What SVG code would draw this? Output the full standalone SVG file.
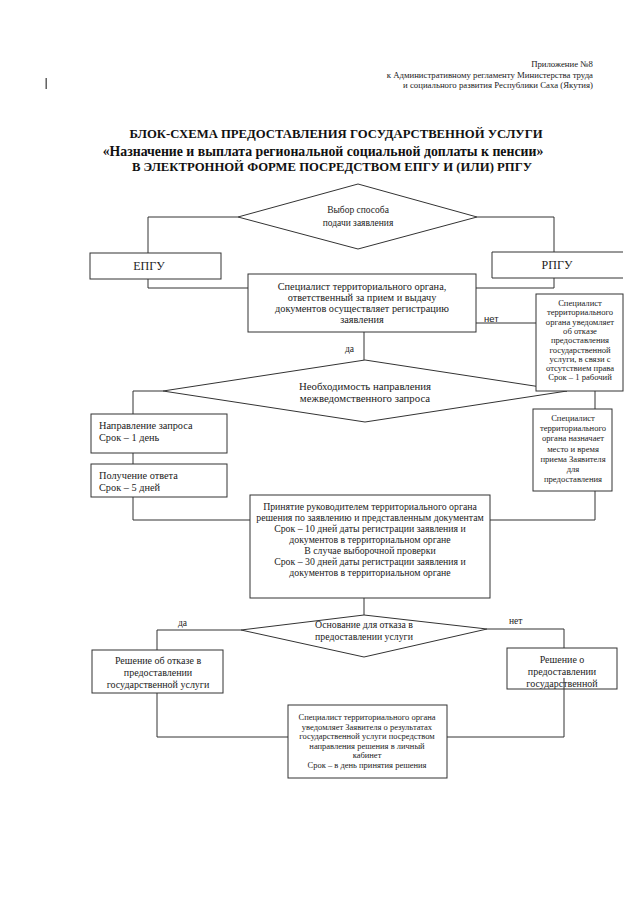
<svg xmlns="http://www.w3.org/2000/svg" width="640" height="905" viewBox="0 0 640 905">
<style>
text{font-family:"Liberation Serif","Times New Roman",serif;fill:#222}
.box{fill:#fff;stroke:#333;stroke-width:1}
.c{text-anchor:middle}
.hdr{font-size:8.75px;text-anchor:end}
.ttl{font-size:12.7px;font-weight:bold;text-anchor:middle;fill:#111}
.t10{font-size:10.3px}
.t98{font-size:9.8px}
.t9{font-size:9.5px}
.t86{font-size:8.6px}
.t85{font-size:8.5px}
.con{fill:none;stroke:#333;stroke-width:1}
</style>
<rect width="640" height="905" fill="#fff"/>
<g id="header">
<text class="hdr" x="593" y="67">Приложение №8</text>
<text class="hdr" x="593" y="78">к Административному регламенту Министерства труда</text>
<text class="hdr" x="593" y="88">и социального развития Республики Саха (Якутия)</text>
<rect x="45.5" y="78" width="1.4" height="11" fill="#555"/>
</g>
<g id="title">
<text class="ttl" x="336" y="138">БЛОК-СХЕМА ПРЕДОСТАВЛЕНИЯ ГОСУДАРСТВЕННОЙ УСЛУГИ</text>
<text class="ttl" x="323" y="156" style="font-size:13.8px">«Назначение и выплата региональной социальной доплаты к пенсии»</text>
<text class="ttl" x="332" y="171">В ЭЛЕКТРОННОЙ ФОРМЕ ПОСРЕДСТВОМ ЕПГУ И (ИЛИ) РПГУ</text>
</g>
<g id="d1">
<polygon class="box" points="358,184 477,217 358,249 238,217"/>
<text class="t9 c" x="358" y="213">Выбор способа</text>
<text class="t9 c" x="358" y="226">подачи заявления</text>
</g>
<g id="epgu">
<rect class="box" x="90" y="253" width="131" height="26"/>
<text class="c" x="149" y="270" font-size="12">ЕПГУ</text>
</g>
<g id="rpgu">
<rect x="492" y="252" width="131" height="26" fill="#fff"/>
<path class="con" d="M623,252 H492 V278 H623"/>
<text class="c" x="557" y="269" font-size="12">РПГУ</text>
</g>
<g id="spec1">
<rect class="box" x="248" y="274" width="228" height="58"/>
<text class="t10 c" x="362" y="290">Специалист территориального органа,</text>
<text class="t10 c" x="362" y="301">ответственный за прием и выдачу</text>
<text class="t10 c" x="362" y="312">документов осуществляет регистрацию</text>
<text class="t10 c" x="362" y="323">заявления</text>
</g>
<g id="d2">
<polygon class="box" points="365,360 567,391 365,422 163,391"/>
<text class="c" x="365" y="390" font-size="10.8">Необходимость направления</text>
<text class="c" x="365" y="402" font-size="10.8">межведомственного запроса</text>
</g>
<g id="refuse1">
<rect class="box" x="536" y="294" width="87" height="97"/>
<text class="t86 c" x="580" y="306">Специалист</text>
<text class="t86 c" x="580" y="315.3">территориального</text>
<text class="t86 c" x="580" y="324.6">органа уведомляет</text>
<text class="t86 c" x="580" y="333.9">об отказе</text>
<text class="t86 c" x="580" y="343.2">предоставления</text>
<text class="t86 c" x="580" y="352.5">государственной</text>
<text class="t86 c" x="580" y="361.8">услуги, в связи с</text>
<text class="t86 c" x="580" y="371.1">отсутствием права</text>
<text class="t86 c" x="580" y="380.4">Срок – 1 рабочий</text>
</g>
<g id="napr">
<rect class="box" x="91" y="414" width="136" height="39"/>
<text class="t10" x="99" y="429">Направление запроса</text>
<text class="t10" x="99" y="441">Срок – 1 день</text>
</g>
<g id="poluch">
<rect class="box" x="91" y="464" width="136" height="33"/>
<text class="t10" x="99" y="479">Получение ответа</text>
<text class="t10" x="99" y="491">Срок – 5 дней</text>
</g>
<g id="appoint">
<rect class="box" x="533" y="409" width="79" height="82"/>
<text class="t86 c" x="573" y="421">Специалист</text>
<text class="t86 c" x="573" y="431">территориального</text>
<text class="t86 c" x="573" y="441">органа назначает</text>
<text class="t86 c" x="573" y="451.5">место и время</text>
<text class="t86 c" x="573" y="462">приема Заявителя</text>
<text class="t86 c" x="573" y="472">для</text>
<text class="t86 c" x="573" y="482">предоставления</text>
</g>
<g id="decision">
<rect class="box" x="250" y="495" width="240" height="103"/>
<text class="t98 c" x="370" y="510">Принятие руководителем территориального органа</text>
<text class="t98 c" x="370" y="521">решения по заявлению и представленным документам</text>
<text class="t98 c" x="370" y="532">Срок – 10 дней даты регистрации заявления и</text>
<text class="t98 c" x="370" y="543">документов в территориальном органе</text>
<text class="t98 c" x="370" y="554">В случае выборочной проверки</text>
<text class="t98 c" x="370" y="565">Срок – 30 дней даты регистрации заявления и</text>
<text class="t98 c" x="370" y="576">документов в территориальном органе</text>
</g>
<g id="d3">
<polygon class="box" points="364,615 487,629 364,657 241,630"/>
<text class="t98 c" x="364" y="628">Основание для отказа в</text>
<text class="t98 c" x="364" y="640">предоставлении услуги</text>
</g>
<g id="resNo">
<rect class="box" x="92" y="650" width="131" height="43"/>
<text class="c" x="158" y="664" font-size="10">Решение об отказе в</text>
<text class="c" x="158" y="676" font-size="10">предоставлении</text>
<text class="c" x="158" y="688" font-size="10">государственной услуги</text>
</g>
<g id="resYes">
<rect class="box" x="507" y="648" width="110" height="41"/>
<text class="c" x="562" y="663" font-size="10">Решение о</text>
<text class="c" x="562" y="675" font-size="10">предоставлении</text>
<text class="c" x="562" y="687" font-size="10">государственной</text>
</g>
<g id="notify">
<rect class="box" x="288" y="705" width="159" height="73"/>
<text class="t85 c" x="367" y="720">Специалист территориального органа</text>
<text class="t85 c" x="367" y="729.5">уведомляет Заявителя о результатах</text>
<text class="t85 c" x="367" y="739">государственной услуги посредством</text>
<text class="t85 c" x="367" y="748.5">направления решения в личный</text>
<text class="t85 c" x="367" y="758">кабинет</text>
<text class="t85 c" x="367" y="767.5">Срок – в день принятия решения</text>
</g>
<g id="connectors">
<path class="con" d="M238,217 H148 V253"/>
<path class="con" d="M148,279 V288 H248"/>
<path class="con" d="M477,217 H554 V252"/>
<path class="con" d="M554,278 V288 H476"/>
<path class="con" d="M476,323 H536"/>
<path class="con" d="M364,332 V360"/>
<path class="con" d="M163,391 H133 V414"/>
<path class="con" d="M133,453 V464"/>
<path class="con" d="M133,497 V520 H250"/>
<path class="con" d="M595,391 V409"/>
<path class="con" d="M595,491 V520 H490"/>
<path class="con" d="M364,598 V615"/>
<path class="con" d="M241,630 H157 V650"/>
<path class="con" d="M157,693 V737 H288"/>
<path class="con" d="M487,629 H564 V648"/>
<path class="con" d="M564,678 V737 H447"/>
</g>
<g id="labels">
<text x="484" y="322" style="font-family:'Liberation Sans',Arial,sans-serif;font-size:9.5px">нет</text>
<text class="t9" x="345" y="352">да</text>
<text class="t9" x="178" y="626">да</text>
<text class="t9" x="509" y="624">нет</text>
</g>
</svg>
